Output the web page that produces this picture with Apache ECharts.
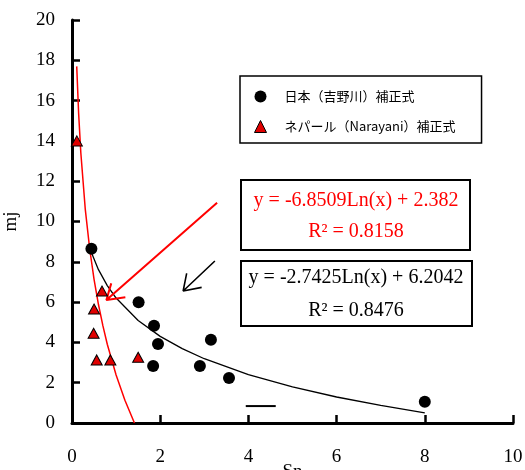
<!DOCTYPE html>
<html>
<head>
<meta charset="utf-8">
<script src="https://cdn.jsdelivr.net/npm/echarts@6/dist/echarts.min.js"></script>
<style>
html,body{margin:0;padding:0;background:#fff;}
#chart{width:525px;height:470px;}
</style>
</head>
<body>
<div id="chart"></div>
<script>
// ---- data ----
const seriesNames = ['日本（吉野川）補正式', 'ネパール（Narayani）補正式'];
const japanX = [0.44, 1.51, 1.86, 1.95, 1.84, 2.90, 3.15, 3.56, 8.0];
const japanY = [8.65, 5.99, 4.83, 3.92, 2.83, 2.83, 4.13, 2.23, 1.06];
const nepalX = [0.11, 0.68, 0.50, 0.49, 0.56, 0.87, 1.50];
const nepalY = [14.0, 6.55, 5.66, 4.45, 3.13, 3.13, 3.26];
// trend curves
const japanFitX = [0.44, 0.6, 0.8, 1, 1.5, 2, 2.5, 3, 4, 5, 6, 7, 8];
const japanFitY = [8.46, 7.61, 6.82, 6.20, 5.09, 4.30, 3.69, 3.19, 2.40, 1.79, 1.29, 0.87, 0.50];
const nepalFitX = [0.107, 0.15, 0.2, 0.3, 0.4, 0.5, 0.6, 0.7, 0.8, 1.0, 1.2, 1.416];
const nepalFitY = [17.70, 15.38, 13.41, 10.63, 8.66, 7.13, 5.88, 4.83, 3.91, 2.38, 1.13, 0.0];
const eqNepal = ['y = -6.8509Ln(x) + 2.382', 'R² = 0.8158'];
const eqJapan = ['y = -2.7425Ln(x) + 6.2042', 'R² = 0.8476'];
const xTitle = 'Sn';
const yTitle = 'mj';
// annotation arrows (data coordinates): start, tip, arm, tip, arm
const redArrow = [[3.29, 10.93], [0.78, 6.10], [0.89, 6.93], [0.78, 6.10], [1.21, 6.24]];
const blackArrow = [[3.24, 8.04], [2.52, 6.55], [2.60, 7.43], [2.52, 6.55], [2.94, 6.73]];
const strayDash = [[3.94, 0.84], [4.62, 0.84]];

const zip = (a, b) => a.map((v, i) => [v, b[i]]);
const serif = '"Liberation Serif", "Times New Roman", serif';
const cjk = '"Noto Sans CJK JP", sans-serif';

const chart = echarts.init(document.getElementById('chart'), null, {renderer: 'canvas'});
const annoLine = (data, color, w) => ({
  type: 'line', data: data, symbol: 'none', silent: true,
  lineStyle: {color: color, width: w}, z: 4, animation: false
});
chart.setOption({
  animation: false,
  backgroundColor: '#fff',
  grid: {left: 72, top: 20, right: 12, bottom: 47, containLabel: false, outerBoundsMode: 'none'},
  xAxis: {
    type: 'value', min: 0, max: 10, interval: 2,
    name: xTitle, nameLocation: 'middle', nameGap: 40, nameMoveOverlap: false,
    nameTextStyle: {fontFamily: serif, fontSize: 19, color: '#000'},
    axisLine: {show: true, lineStyle: {color: '#000', width: 3}},
    axisTick: {show: true, inside: true, length: 8, lineStyle: {color: '#000', width: 2.5}},
    axisLabel: {fontFamily: serif, fontSize: 19, color: '#000', margin: 25},
    splitLine: {show: false}
  },
  yAxis: {
    type: 'value', min: 0, max: 20, interval: 2,
    name: yTitle, nameLocation: 'middle', nameGap: 51, nameMoveOverlap: false,
    nameTextStyle: {fontFamily: serif, fontSize: 19, color: '#000'},
    axisLine: {show: true, lineStyle: {color: '#000', width: 3}},
    axisTick: {show: true, inside: true, length: 8, lineStyle: {color: '#000', width: 2.5}},
    axisLabel: {fontFamily: serif, fontSize: 19, color: '#000', margin: 17},
    splitLine: {show: false}
  },
  legend: {
    data: [
      {name: seriesNames[0], icon: 'circle', itemStyle: {color: '#000', borderWidth: 0}},
      {name: seriesNames[1], icon: 'triangle', itemStyle: {color: '#e00000', borderColor: '#000', borderWidth: 1}}
    ],
    orient: 'vertical', left: 240, top: 76,
    padding: [14, 26, 10, 14],
    itemGap: 17, itemWidth: 12, itemHeight: 12,
    borderColor: '#000', borderWidth: 1.5,
    textStyle: {fontFamily: cjk, fontSize: 13, color: '#000', padding: [0, 0, 0, 13]}
  },
  graphic: [
    {type: 'rect', left: 240, top: 179, shape: {width: 229, height: 70},
     style: {fill: '#fff', stroke: '#000', lineWidth: 2}, z: 10},
    {type: 'text', x: 356, y: 201, z: 11,
     style: {text: eqNepal[0], font: '20px ' + serif, fill: '#ff0000', align: 'center', verticalAlign: 'middle'}},
    {type: 'text', x: 356, y: 232, z: 11,
     style: {text: eqNepal[1], font: '20px ' + serif, fill: '#ff0000', align: 'center', verticalAlign: 'middle'}},
    {type: 'rect', left: 240, top: 260, shape: {width: 231, height: 65},
     style: {fill: '#fff', stroke: '#000', lineWidth: 2}, z: 10},
    {type: 'text', x: 356, y: 278, z: 11,
     style: {text: eqJapan[0], font: '20px ' + serif, fill: '#000', align: 'center', verticalAlign: 'middle'}},
    {type: 'text', x: 356, y: 311, z: 11,
     style: {text: eqJapan[1], font: '20px ' + serif, fill: '#000', align: 'center', verticalAlign: 'middle'}}
  ],
  series: [
    {name: seriesNames[0], type: 'scatter', data: zip(japanX, japanY), symbol: 'circle', symbolSize: 12,
     itemStyle: {color: '#000', opacity: 1}, z: 5},
    {name: seriesNames[1], type: 'scatter', data: zip(nepalX, nepalY), symbol: 'triangle', symbolSize: [11, 10],
     itemStyle: {color: '#e00000', borderColor: '#000', borderWidth: 1, opacity: 1}, z: 5},
    annoLine(zip(japanFitX, japanFitY), '#000', 1.3),
    annoLine(zip(nepalFitX, nepalFitY), '#ff0000', 1.5),
    annoLine(redArrow, '#ff0000', 2),
    annoLine(blackArrow, '#000', 1.6),
    annoLine(strayDash, '#000', 2)
  ]
});
</script>
</body>
</html>
